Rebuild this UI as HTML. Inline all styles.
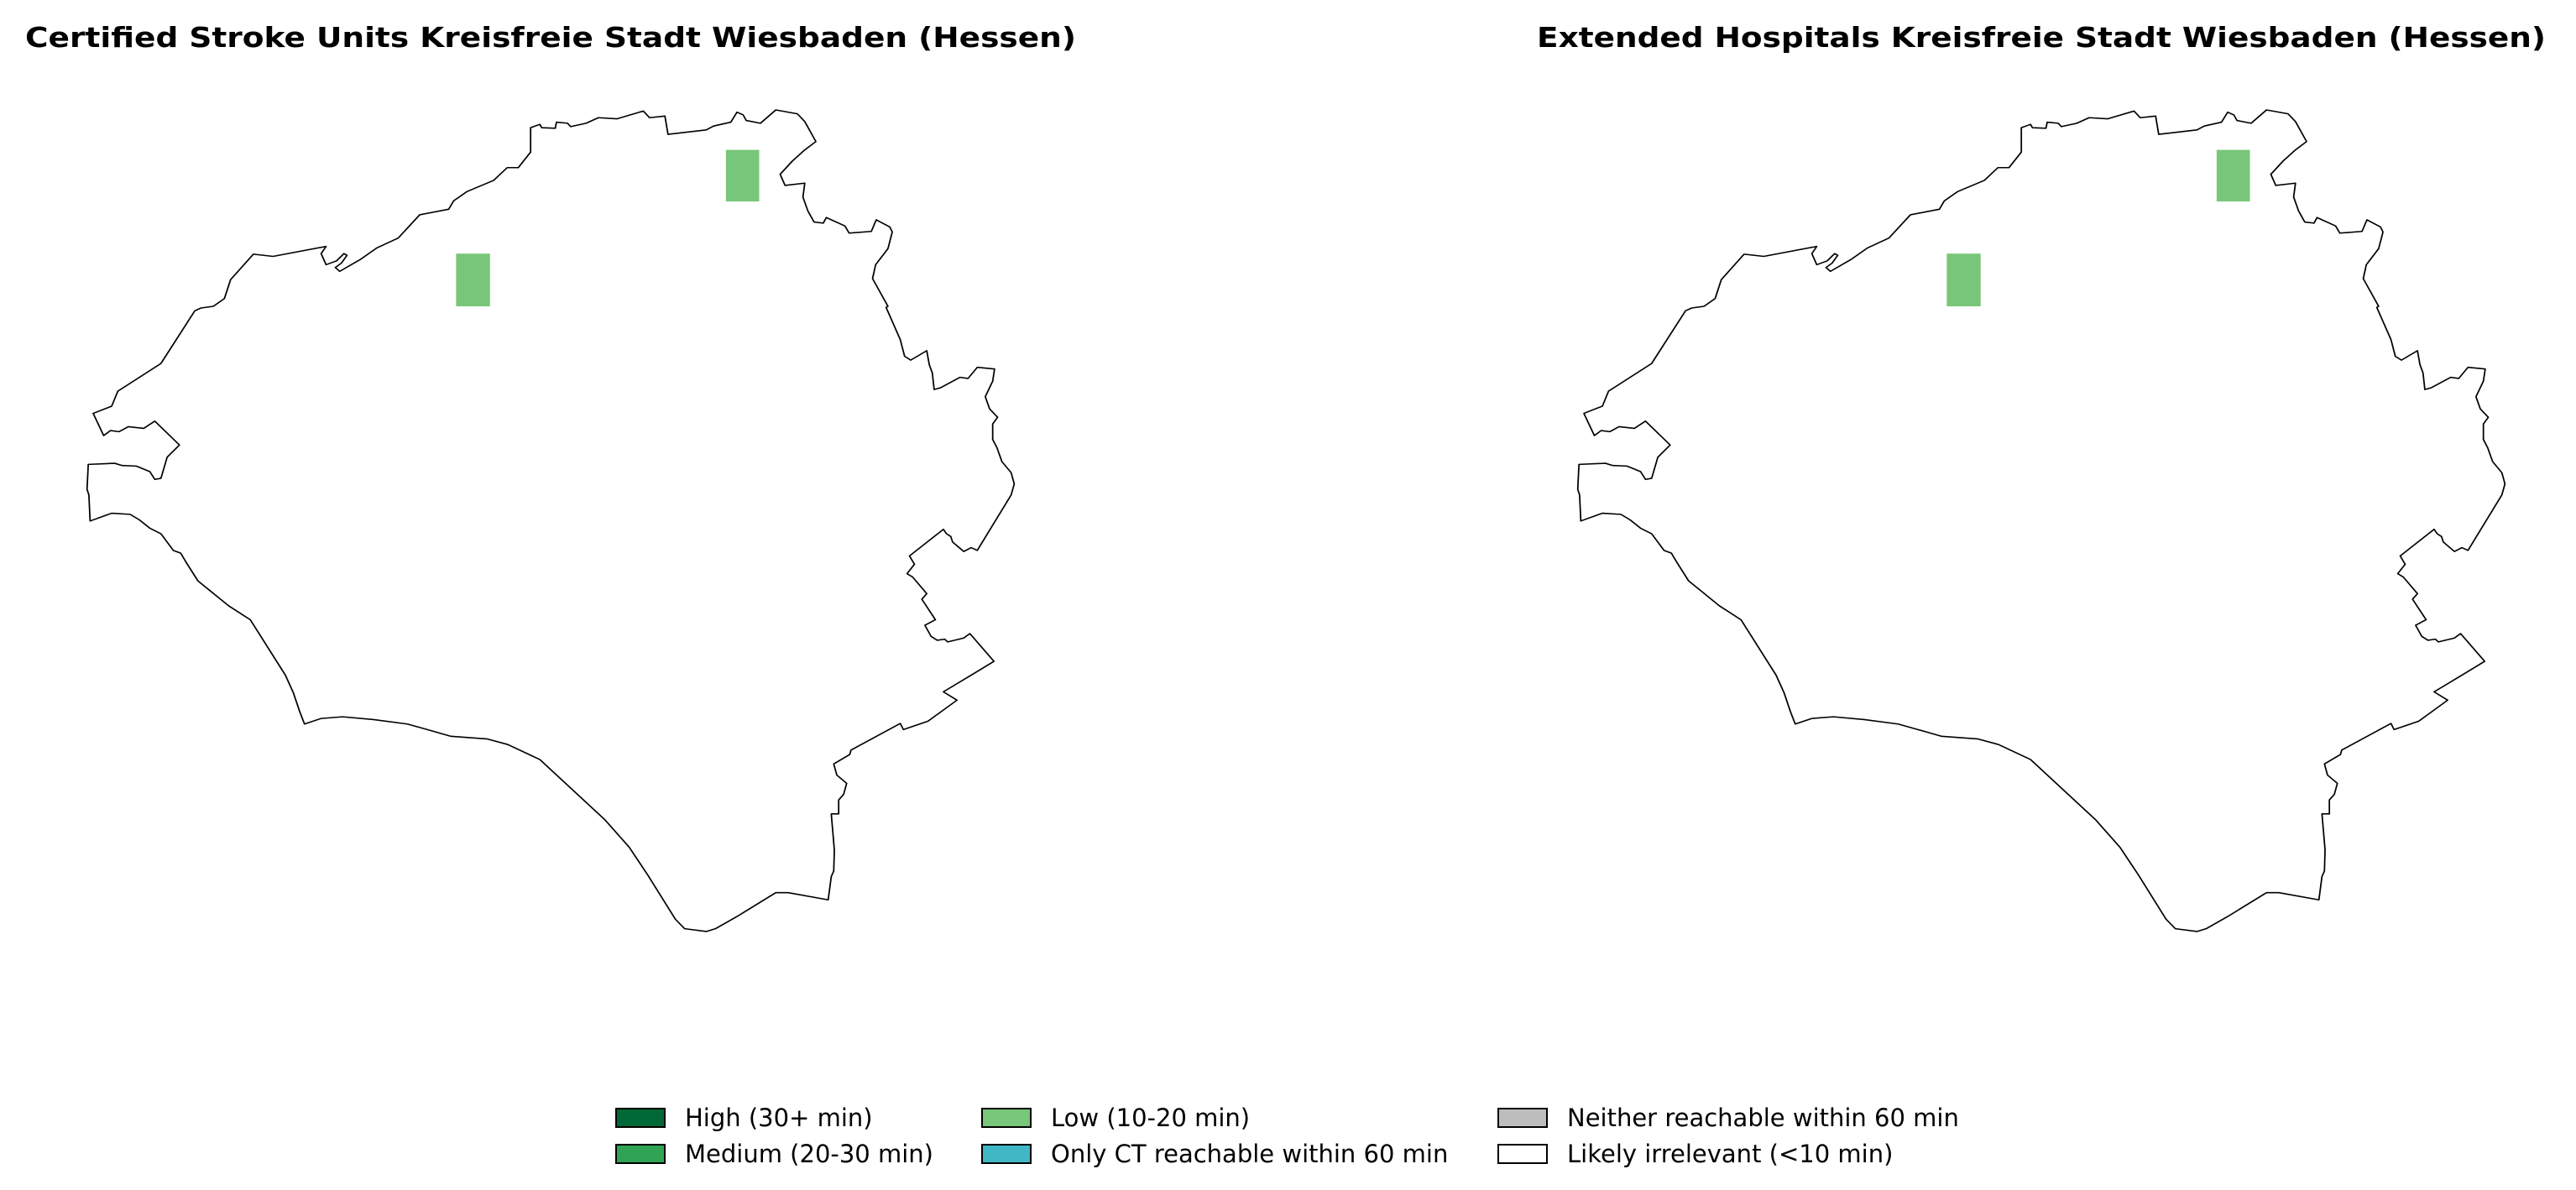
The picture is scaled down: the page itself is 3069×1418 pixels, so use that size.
<!DOCTYPE html>
<html><head><meta charset="utf-8"><style>
html,body{margin:0;padding:0;background:#fff;}
svg{display:block;font-family:"DejaVu Sans","Liberation Sans",sans-serif;}
</style></head><body>
<svg id="fig" width="3069" height="1418" viewBox="0 0 3069 1418" xmlns="http://www.w3.org/2000/svg">
<defs>
<path id="outline" d="M755,78 L770,72 L773,78 L795,79 L797,68 L815,70 L820,76 L845,70 L865,60 L895,62 L938,48 L948,60 L973,57 L978,90 L1040,82 L1052,75 L1080,68 L1090,50 L1100,55 L1105,65 L1128,70 L1153,46 L1188,53 L1200,67 L1218,103 L1200,118 L1180,138 L1160,162 L1168,182 L1200,178 L1197,203 L1205,228 L1215,248 L1230,250 L1235,240 L1265,255 L1272,268 L1308,265 L1316,244 L1338,257 L1342,266 L1335,296 L1315,325 L1310,350 L1315,360 L1335,400 L1332,402 L1355,460 L1362,490 L1372,497 L1398,480 L1402,505 L1407,520 L1410,550 L1420,547 L1452,528 L1465,530 L1480,510 L1508,513 L1505,535 L1493,563 L1500,585 L1513,600 L1505,612 L1505,640 L1512,655 L1520,680 L1535,700 L1540,720 L1535,740 L1480,840 L1470,835 L1458,842 L1440,825 L1437,815 L1430,810 L1425,802 L1370,850 L1378,865 L1366,882 L1375,888 L1398,918 L1390,928 L1412,965 L1395,975 L1405,995 L1415,1002 L1427,1000 L1432,1005 L1458,998 L1468,990 L1507,1040 L1470,1065 L1425,1095 L1447,1110 L1400,1148 L1360,1163 L1355,1152 L1275,1200 L1273,1208 L1247,1225 L1252,1245 L1268,1260 L1263,1280 L1255,1290 L1255,1315 L1243,1315 L1248,1380 L1247,1418 L1243,1428 L1238,1470 L1173,1457 L1153,1457 L1090,1500 L1055,1522 L1040,1527 L1005,1522 L990,1505 L945,1425 L915,1375 L875,1325 L770,1217 L718,1190 L685,1180 L625,1175 L600,1167 L555,1153 L500,1145 L450,1140 L415,1143 L388,1153 L380,1130 L370,1097 L357,1065 L300,965 L265,940 L215,895 L195,860 L187,845 L175,840 L163,822 L155,810 L137,800 L120,785 L105,775 L75,773 L40,787 L38,740 L35,730 L37,685 L80,683 L92,687 L115,688 L137,698 L145,712 L155,710 L165,672 L185,650 L145,607 L127,620 L102,617 L87,626 L73,624 L62,633 L45,593 L75,580 L85,553 L155,503 L210,408 L220,403 L240,400 L258,386 L268,352 L305,306 L337,310 L423,292 L415,305 L423,325 L440,318 L452,305 L457,308 L448,322 L438,330 L445,337 L478,316 L505,295 L540,277 L575,235 L622,225 L630,210 L652,193 L695,173 L717,150 L735,150 L755,122 Z"/>
</defs>

<text x="656" y="56" text-anchor="middle" font-size="33" font-weight="bold" textLength="1252" lengthAdjust="spacingAndGlyphs">Certified Stroke Units Kreisfreie Stadt Wiesbaden (Hessen)</text>
<text x="2432" y="56" text-anchor="middle" font-size="33" font-weight="bold" textLength="1202" lengthAdjust="spacingAndGlyphs">Extended Hospitals Kreisfreie Stadt Wiesbaden (Hessen)</text>

<g transform="translate(78,100.6) scale(0.734,0.661)">
  <rect x="634" y="305" width="55" height="95" fill="#78c679"/>
  <rect x="1072" y="118" width="54" height="93" fill="#78c679"/>
  <use href="#outline" fill="none" stroke="#000" stroke-width="2.4" vector-effect="non-scaling-stroke" stroke-linejoin="round"/>
</g>
<g transform="translate(1854,100.6) scale(0.734,0.661)">
  <rect x="634" y="305" width="55" height="95" fill="#78c679"/>
  <rect x="1072" y="118" width="54" height="93" fill="#78c679"/>
  <use href="#outline" fill="none" stroke="#000" stroke-width="2.4" vector-effect="non-scaling-stroke" stroke-linejoin="round"/>
</g>

<g id="legend"></g>
</svg>
<script>
const legendLabels = ["High (30+ min)", "Medium (20-30 min)", "Low (10-20 min)", "Only CT reachable within 60 min", "Neither reachable within 60 min", "Likely irrelevant (<10 min)"];
const legendColors = ["#006837", "#31a354", "#78c679", "#41b6c4", "#bdbdbd", "#ffffff"];
const colX = [734, 1170, 1785];
const rowY = [1321, 1364];
const lg = document.getElementById('legend');
const NS = 'http://www.w3.org/2000/svg';
legendLabels.forEach((lab, i) => {
  const c = Math.floor(i / 2), r = i % 2;
  const g = document.createElementNS(NS, 'g');
  
  
  const rect = document.createElementNS(NS, 'rect');
  rect.setAttribute('x', colX[c]); rect.setAttribute('y', rowY[r]);
  rect.setAttribute('width', 58); rect.setAttribute('height', 22);
  rect.setAttribute('fill', legendColors[i]); rect.setAttribute('stroke', '#000'); rect.setAttribute('stroke-width', 2);
  
  
  const t = document.createElementNS(NS, 'text');
  t.setAttribute('x', colX[c] + 82); t.setAttribute('y', rowY[r] + 21);
  t.setAttribute('font-size', '29');
  t.textContent = lab;
  
  
  g.appendChild(rect); g.appendChild(t); lg.appendChild(g);
});
</script>
</body></html>
